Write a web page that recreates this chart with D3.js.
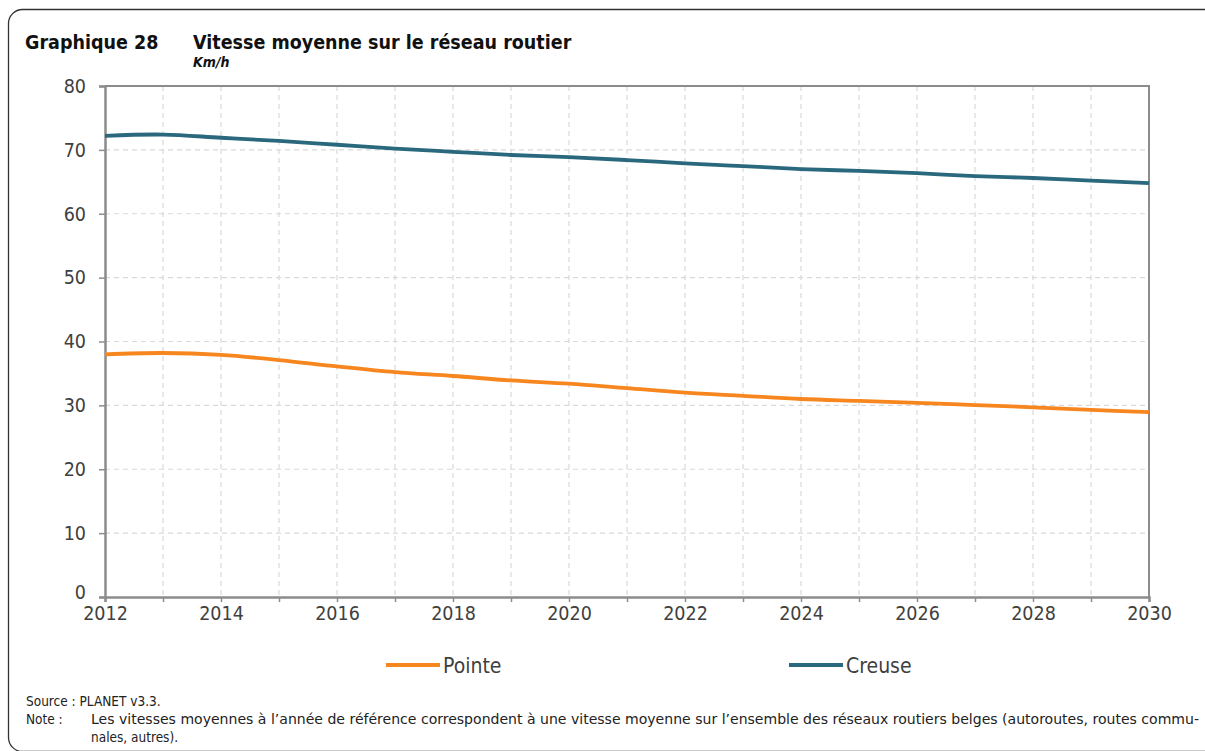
<!DOCTYPE html>
<html>
<head>
<meta charset="utf-8">
<script src="https://cdn.jsdelivr.net/npm/d3@7"></script>
<style>
  html, body { margin: 0; padding: 0; background: #fff; }
  svg { display: block; }
  text { font-family: "DejaVu Sans Condensed", "DejaVu Sans", sans-serif; fill: #404040; }
</style>
</head>
<body>
<svg id="chart" width="1205" height="751"></svg>
<script>
// Average speed on the Belgian road network (km/h), peak vs off-peak
const years = [2012, 2013, 2014, 2015, 2016, 2017, 2018, 2019, 2020, 2021,
               2022, 2023, 2024, 2025, 2026, 2027, 2028, 2029, 2030];
const pointe = [38.0, 38.2, 37.9, 37.1, 36.1, 35.2, 34.6, 33.9, 33.4, 32.7,
                32.0, 31.5, 31.0, 30.7, 30.4, 30.05, 29.7, 29.3, 28.95];
const creuse = [72.2, 72.4, 71.9, 71.4, 70.8, 70.2, 69.7, 69.2, 68.85, 68.4,
                67.9, 67.45, 67.0, 66.7, 66.35, 65.9, 65.6, 65.2, 64.8];
const yTicks = [0, 10, 20, 30, 40, 50, 60, 70, 80];
const xLabelYears = [2012, 2014, 2016, 2018, 2020, 2022, 2024, 2026, 2028, 2030];
const seriesNames = ["Pointe", "Creuse"];
const seriesColors = ["#F7861F", "#2A687E"];

const svg = d3.select("#chart");
const FONT = "'DejaVu Sans Condensed', 'DejaVu Sans', sans-serif";

// outer frame with rounded corners
svg.append("rect")
  .attr("x", 8.5).attr("y", 9.5)
  .attr("width", 1240).attr("height", 742)
  .attr("rx", 14).attr("ry", 14)
  .attr("fill", "none").attr("stroke", "#333").attr("stroke-width", 1.3);

// titles
svg.append("text").attr("x", 25).attr("y", 49)
  .style("font-weight", "bold").style("font-size", "19.5px")
  .style("fill", "#111").text("Graphique 28");
svg.append("text").attr("x", 193).attr("y", 49)
  .style("font-weight", "bold").style("font-size", "19.5px")
  .style("fill", "#111").text("Vitesse moyenne sur le réseau routier");
svg.append("text").attr("x", 193).attr("y", 67)
  .style("font-weight", "bold").style("font-style", "italic").style("font-size", "14px")
  .style("fill", "#111").text("Km/h");

const x = d3.scaleLinear().domain([2012, 2030]).range([105, 1149]);
const y = d3.scaleLinear().domain([0, 80]).range([597, 86]);

// gridlines
const grid = svg.append("g");
grid.selectAll("line.h").data(yTicks.filter(v => v > 0 && v < 80)).join("line")
  .attr("x1", x(2012)).attr("x2", x(2030))
  .attr("y1", d => y(d)).attr("y2", d => y(d))
  .attr("stroke", "#d9d9d9").attr("stroke-width", 1.2).attr("stroke-dasharray", "5,4");
grid.selectAll("line.v").data(years.slice(1, -1)).join("line")
  .attr("x1", d => x(d)).attr("x2", d => x(d))
  .attr("y1", y(80)).attr("y2", y(0))
  .attr("stroke", "#d9d9d9").attr("stroke-width", 1.2).attr("stroke-dasharray", "5,4");

// plot border (top and right)
svg.append("path")
  .attr("d", `M${x(2012)},${y(80)}H${x(2030)}V${y(0)}`)
  .attr("fill", "none").attr("stroke", "#8c8c8c").attr("stroke-width", 2);

// y axis
const yAxis = svg.append("g").attr("transform", `translate(${x(2012)},0)`)
  .call(d3.axisLeft(y).tickValues(yTicks).tickSize(6).tickPadding(13).tickFormat(d3.format("d")));
yAxis.select(".domain").attr("stroke", "#8c8c8c").attr("stroke-width", 2.5);
yAxis.selectAll(".tick line").attr("stroke", "#8c8c8c").attr("stroke-width", 1.5);
yAxis.selectAll(".tick text").style("font-size", "19.5px").style("fill", "#404040")
  .style("font-family", FONT);
// keep the zero label clear of the first year label
yAxis.selectAll(".tick text").filter(d => d === 0).attr("dy", "0.1em");

// x axis
const xAxis = svg.append("g").attr("transform", `translate(0,${y(0)})`)
  .call(d3.axisBottom(x).tickValues(years).tickSize(5).tickPadding(4)
    .tickFormat(d => xLabelYears.includes(d) ? String(d) : ""));
xAxis.select(".domain").attr("stroke", "#8c8c8c").attr("stroke-width", 2.5);
xAxis.selectAll(".tick line").attr("stroke", "#8c8c8c").attr("stroke-width", 1.5);
xAxis.selectAll(".tick text").style("font-size", "19.5px").style("fill", "#404040")
  .style("font-family", FONT);

// series lines
const line = d3.line()
  .x((d, i) => x(years[i]))
  .y(d => y(d))
  .curve(d3.curveCatmullRom.alpha(0.5));
[pointe, creuse].forEach((vals, k) => {
  svg.append("path").datum(vals)
    .attr("d", line)
    .attr("fill", "none")
    .attr("stroke", seriesColors[k])
    .attr("stroke-width", 3.8)
    .attr("stroke-linejoin", "round");
});

// legend
const legendX = [386, 789];
seriesNames.forEach((name, k) => {
  const g = svg.append("g").attr("transform", `translate(${legendX[k]},665)`);
  g.append("line").attr("x1", 0).attr("x2", 54).attr("y1", 0).attr("y2", 0)
    .attr("stroke", seriesColors[k]).attr("stroke-width", 3.8);
  g.append("text").attr("x", 57).attr("y", 7.5)
    .style("font-size", "21px").style("fill", "#404040").text(name);
});

// source and note
const footSize = "13.5px";
svg.append("text").attr("x", 26).attr("y", 706)
  .style("font-size", footSize).style("fill", "#222").text("Source : PLANET v3.3.");
svg.append("text").attr("x", 26).attr("y", 724)
  .style("font-size", footSize).style("fill", "#222").text("Note :");
svg.append("text").attr("x", 91).attr("y", 724)
  .attr("textLength", 1108).attr("lengthAdjust", "spacingAndGlyphs")
  .style("font-size", footSize).style("fill", "#222")
  .text("Les vitesses moyennes à l’année de référence correspondent à une vitesse moyenne sur l’ensemble des réseaux routiers belges (autoroutes, routes commu-");
svg.append("text").attr("x", 91).attr("y", 742)
  .style("font-size", footSize).style("fill", "#222").text("nales, autres).");
</script>
</body>
</html>
